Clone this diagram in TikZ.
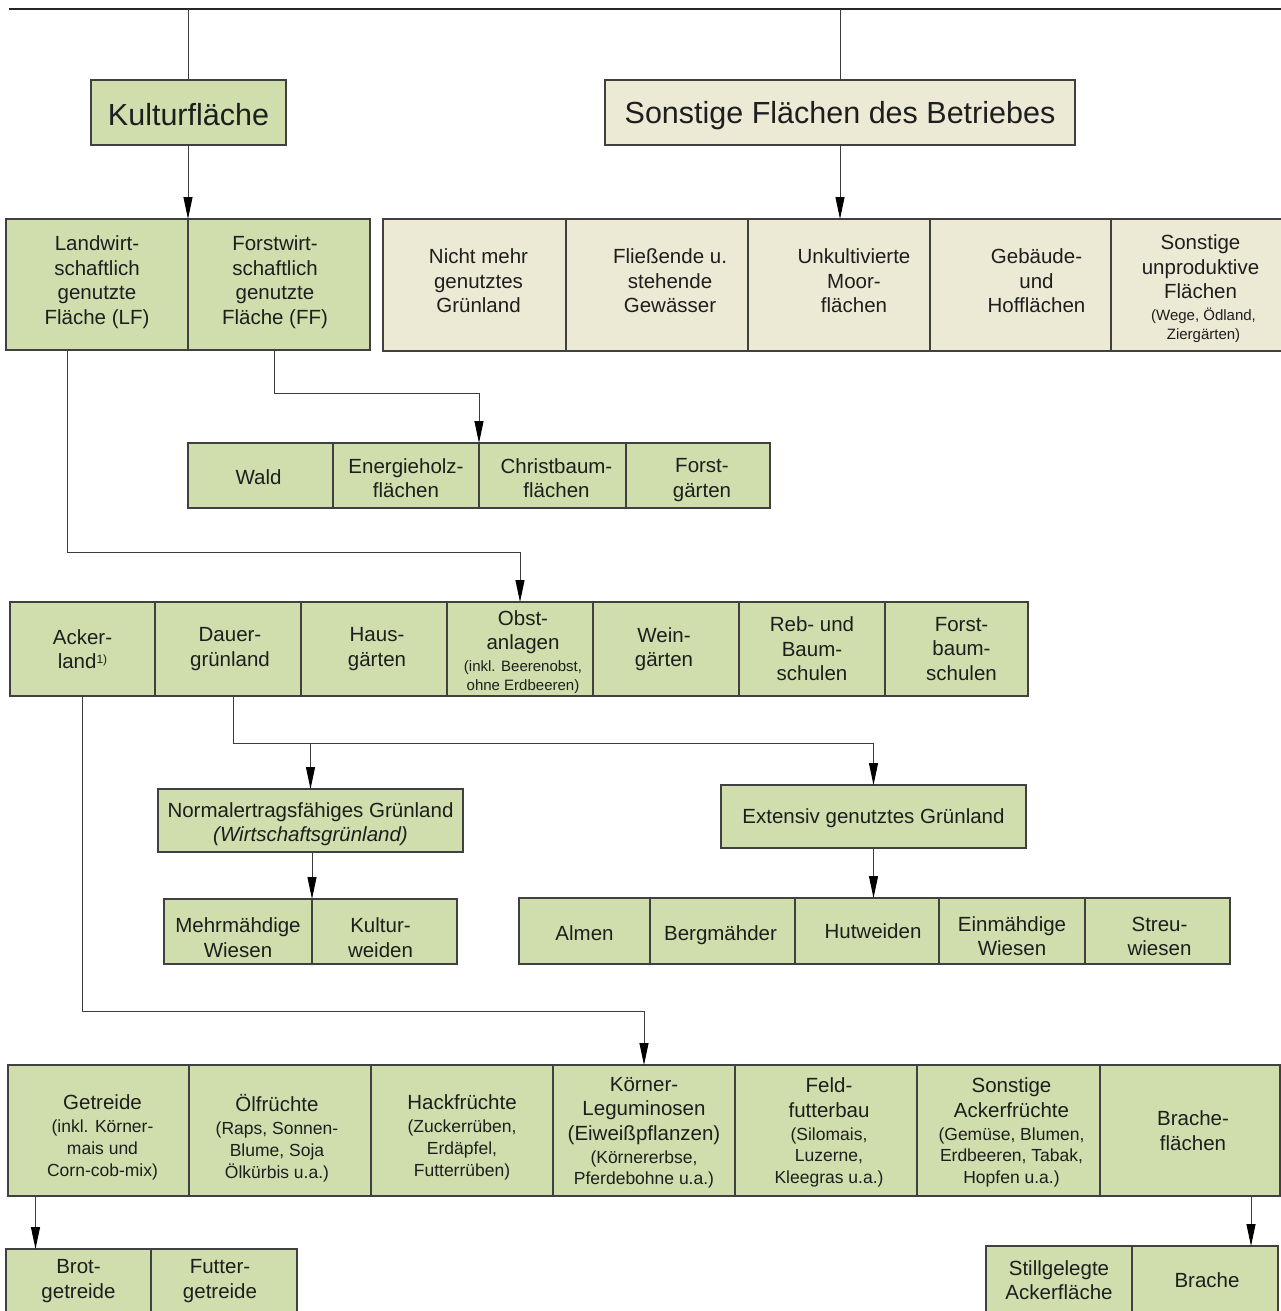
\documentclass[tikz,border=0pt]{standalone}
\usepackage{fontspec}
\setmainfont{Liberation Sans}
\usetikzlibrary{arrows.meta,calc}
\definecolor{grn}{HTML}{CFDEAC}
\definecolor{bge}{HTML}{ECE9D5}
\definecolor{linec}{HTML}{404040}
\definecolor{connc}{HTML}{3C3C3C}
\definecolor{txt}{HTML}{1E1E1E}
\newcommand\smf{\fontsize{15}{19}\selectfont}
\newcommand\mdf{\fontsize{17.5}{22}\selectfont}
\newcommand\tops[1]{\rule{0pt}{#1}}
\newcommand\bots[1]{\rule[-#1]{0pt}{0pt}}
\newcommand\hs[1]{\hspace*{#1}}
\tikzset{
  cell/.style={draw=linec, line width=1.2pt, inner sep=0pt, outer sep=0pt,
    anchor=north west, align=center, text=txt,
    font=\fontsize{20.5}{24.5}\selectfont},
  g/.style={cell, fill=grn},
  b/.style={cell, fill=bge},
  big/.style={font=\fontsize{30.5}{36}\selectfont},
  conn/.style={draw=connc, line width=1pt},
  arr/.style={conn, -{Triangle[length=22pt,width=9pt,color=black]}}
}
\begin{document}
\begin{tikzpicture}[x=1pt,y=-1pt]
\useasboundingbox (0,0) rectangle (1281,1311);
% top line
\coordinate (topL) at (9,9);
\coordinate (topR) at (1281,9);
\draw[draw=black!85, line width=1.2pt] (topL) -- (topR);

% level 1
\node[g, big, minimum width=195, minimum height=65] (kultur) at (91,80) {\tops{26pt}Kulturfläche};
\node[b, big, minimum width=470, minimum height=65] (sonst) at (605,80) {\tops{28pt}Sonstige Flächen des Betriebes};

% level 2 left
\node[g, minimum width=182, minimum height=131] (lf) at (6,219) {Landwirt-\\schaftlich\\genutzte\\Fläche (LF)\bots{9pt}};
\node[g, minimum width=182, minimum height=131] (ff) at (188,219) {\hs{-8pt}Forstwirt-\\\hs{-8pt}schaftlich\\\hs{-8pt}genutzte\\\hs{-8pt}Fläche (FF)\bots{9pt}};

% level 2 right
\node[b, minimum width=183, minimum height=132] (ngr) at (383,219) {\hs{8pt}Nicht mehr\\\hs{8pt}genutztes\\\hs{8pt}Grünland\bots{8pt}};
\node[b, minimum width=182, minimum height=132] (gew) at (566,219) {\hs{26pt}Fließende u.\\\hs{26pt}stehende\\\hs{26pt}Gewässer\bots{8pt}};
\node[b, minimum width=182, minimum height=132] (moor) at (748,219) {\hs{30pt}Unkultivierte\\\hs{30pt}Moor-\\\hs{30pt}flächen\bots{8pt}};
\node[b, minimum width=181, minimum height=132] (geb) at (930,219) {\hs{32pt}Gebäude-\\\hs{32pt}und\\\hs{32pt}Hofflächen\bots{8pt}};
\node[b, minimum width=185, minimum height=132] (unprod) at (1111,219) {\tops{23pt}\hs{-6pt}Sonstige\\\hs{-6pt}unproduktive\\\hs{-6pt}Flächen\\[-2.5pt]\smf (Wege, Ödland,\\[-5.5pt]\smf Ziergärten)};

% forest row
\node[g, minimum width=145, minimum height=65] (wald) at (188,443) {\tops{19pt}\hs{-4pt}Wald};
\node[g, minimum width=146, minimum height=65] (energ) at (333,443) {\tops{20pt}Energieholz-\\flächen};
\node[g, minimum width=147, minimum height=65] (christ) at (479,443) {\tops{20pt}\hs{8pt}Christbaum-\\\hs{8pt}flächen};
\node[g, minimum width=144, minimum height=65] (fgart) at (626,443) {\tops{23pt}\hs{8pt}Forst-\\\hs{8pt}gärten};

% LF row
\node[g, minimum width=145, minimum height=94] (acker) at (10,602) {Acker-\\land\raisebox{5pt}{\fontsize{12}{12}\selectfont 1)}};
\node[g, minimum width=146, minimum height=94] (dauer) at (155,602) {\hs{4pt}Dauer-\\\hs{4pt}grünland};
\node[g, minimum width=146, minimum height=94] (haus) at (301,602) {\hs{6pt}Haus-\\\hs{6pt}gärten};
\node[g, minimum width=146, minimum height=94] (obst) at (447,602) {\tops{21pt}\hs{6pt}Obst-\\\hs{6pt}anlagen\\[-2.5pt]\smf\hs{6pt}(inkl. Beerenobst,\\[-5.5pt]\smf\hs{6pt}ohne Erdbeeren)};
\node[g, minimum width=146, minimum height=94] (wein) at (593,602) {\hs{-4pt}Wein-\\\hs{-4pt}gärten};
\node[g, minimum width=146, minimum height=94] (reb) at (739,602) {Reb- und\\Baum-\\schulen};
\node[g, minimum width=143, minimum height=94] (fbaum) at (885,602) {\hs{10pt}Forst-\\\hs{10pt}baum-\\\hs{10pt}schulen};

% grassland
\node[g, minimum width=305, minimum height=63] (normal) at (158,789) {\tops{22pt}Normalertragsfähiges Grünland\\\textit{(Wirtschaftsgrünland)}};
\node[g, minimum width=148, minimum height=65] (mehr) at (164,899) {\tops{27pt}Mehrmähdige\\Wiesen};
\node[g, minimum width=145, minimum height=65] (kweid) at (312,899) {\tops{27pt}\hs{-8pt}Kultur-\\\hs{-8pt}weiden};

\node[g, minimum width=305, minimum height=63] (ext) at (721,785) {\tops{19pt}Extensiv genutztes Grünland};
\node[g, minimum width=131, minimum height=66] (almen) at (519,898) {\tops{19pt}Almen};
\node[g, minimum width=145, minimum height=66] (berg) at (650,898) {\tops{23pt}\hs{-4pt}Bergmähder};
\node[g, minimum width=144, minimum height=66] (hut) at (795,898) {\hs{12pt}Hutweiden};
\node[g, minimum width=146, minimum height=66] (einm) at (939,898) {\tops{25pt}Einmähdige\\Wiesen};
\node[g, minimum width=145, minimum height=66] (streu) at (1085,898) {\tops{25pt}\hs{4pt}Streu-\\\hs{4pt}wiesen};

% arable row
\node[g, minimum width=181, minimum height=131] (getr) at (8,1065) {\tops{29pt}\hs{8pt}Getreide\\[-1.5pt]\mdf\hs{8pt}(inkl. Körner-\\[-2.5pt]\mdf\hs{8pt}mais und\\[-2.5pt]\mdf\hs{8pt}Corn-cob-mix)};
\node[g, minimum width=182, minimum height=131] (oel) at (189,1065) {\tops{32.5pt}\hs{-6pt}Ölfrüchte\\[-1.5pt]\mdf\hs{-6pt}(Raps, Sonnen-\\[-2.5pt]\mdf\hs{-6pt}Blume, Soja\\[-2.5pt]\mdf\hs{-6pt}Ölkürbis u.a.)};
\node[g, minimum width=182, minimum height=131] (hack) at (371,1065) {\tops{29pt}Hackfrüchte\\[-1.5pt]\mdf (Zuckerrüben,\\[-2.5pt]\mdf Erdäpfel,\\[-2.5pt]\mdf Futterrüben)};
\node[g, minimum width=182, minimum height=131] (koerner) at (553,1065) {\tops{19pt}Körner-\\Leguminosen\\(Eiweißpflanzen)\\[-1.5pt]\mdf (Körnererbse,\\[-3pt]\mdf Pferdebohne u.a.)};
\node[g, minimum width=182, minimum height=131] (feld) at (735,1065) {\tops{19pt}\hs{6pt}Feld-\\\hs{6pt}futterbau\\[-1.5pt]\mdf\hs{6pt}(Silomais,\\[-3pt]\mdf\hs{6pt}Luzerne,\\[-3pt]\mdf\hs{6pt}Kleegras u.a.)};
\node[g, minimum width=183, minimum height=131] (sack) at (917,1065) {\tops{19pt}\hs{6pt}Sonstige\\\hs{6pt}Ackerfrüchte\\[-1.5pt]\mdf\hs{6pt}(Gemüse, Blumen,\\[-3pt]\mdf\hs{6pt}Erdbeeren, Tabak,\\[-3pt]\mdf\hs{6pt}Hopfen u.a.)};
\node[g, minimum width=180, minimum height=131] (brache) at (1100,1065) {\hs{6pt}Brache-\\\hs{6pt}flächen};

% bottom rows
\node[g, minimum width=145, minimum height=64] (brot) at (6,1249) {Brot-\\getreide};
\node[g, minimum width=146, minimum height=64] (futter) at (151,1249) {\hs{-8pt}Futter-\\\hs{-8pt}getreide};
\node[g, minimum width=146, minimum height=68] (still) at (986,1246) {Stillgelegte\\Ackerfläche};
\node[g, minimum width=146, minimum height=68] (brachen) at (1132,1246) {\hs{4pt}Brache};

% connectors
\draw[conn] (kultur.north) -- (kultur.north |- topL);
\draw[conn] (sonst.north) -- (sonst.north |- topL);
\draw[arr] (lf.north east |- kultur.south) -- (lf.north east);
\draw[arr] (sonst.south) -- (sonst.south |- moor.north);
\draw[arr] ([xshift=-5pt]ff.south) -- ++(0,43) -| (energ.north east);
\draw[arr] ([xshift=-30pt]lf.south) -- ++(0,202) -| (obst.north);
\path ([xshift=5pt]dauer.south) ++(0,47) coordinate (jd);
\draw[arr] ([xshift=5pt]dauer.south) |- (jd) -| (ext.north);
\draw[arr] (normal.north |- jd) -- (normal.north);
\draw[arr] (mehr.north east |- normal.south) -- (mehr.north east);
\draw[arr] (ext.south) -- (ext.south |- hut.north);
\draw[arr] (acker.south) -- ++(0,315) -| (koerner.north);
\draw[arr] ([xshift=-63pt]getr.south) -- ([xshift=-63pt]getr.south |- brot.north);
\draw[arr] ([xshift=61pt]brache.south) -- ([xshift=61pt]brache.south |- brachen.north);
\end{tikzpicture}
\end{document}
